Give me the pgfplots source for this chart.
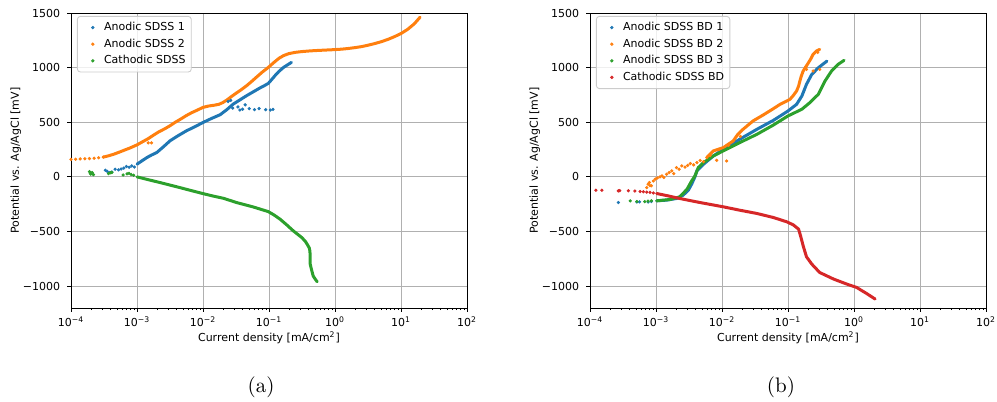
\documentclass[border=0pt]{standalone}
\usepackage{fontspec}
\usepackage{pgfplots}
\pgfplotsset{compat=1.18}
\newfontfamily\dejavu{DejaVu Sans}
\newcommand\tf{\dejavu\fontsize{5.5}{6.6}\selectfont}
\definecolor{cA}{HTML}{1F77B4}
\definecolor{cB}{HTML}{FF7F0E}
\definecolor{cC}{HTML}{2CA02C}
\definecolor{cD}{HTML}{D62728}
\definecolor{gridgray}{HTML}{B0B0B0}
\definecolor{leggray}{HTML}{CCCCCC}
\pgfplotsset{
  myaxis/.style={
    anchor=south west, width=198pt, height=147.5pt, scale only axis,
    xmin=1e-4, xmax=1e2, ymin=-1200, ymax=1500,
    xtick={1e-4,1e-3,1e-2,1e-1,1,10,100},
    xticklabels={10\textsuperscript{−4},10\textsuperscript{−3},10\textsuperscript{−2},10\textsuperscript{−1},10\textsuperscript{0},10\textsuperscript{1},10\textsuperscript{2}},
    minor xtick={2e-4,3e-4,4e-4,5e-4,6e-4,7e-4,8e-4,9e-4,2e-3,3e-3,4e-3,5e-3,6e-3,7e-3,8e-3,9e-3,2e-2,3e-2,4e-2,5e-2,6e-2,7e-2,8e-2,9e-2,0.2,0.3,0.4,0.5,0.6,0.7,0.8,0.9,2,3,4,5,6,7,8,9,20,30,40,50,60,70,80,90},
    ytick={-1000,-500,0,500,1000,1500},
    yticklabels={−1000,−500,0,500,1000,1500},
    tick label style={font=\tf},
    xticklabel style={yshift=1.2pt},
    label style={font=\tf},
    grid=major, major grid style={color=gridgray, line width=0.44pt},
    axis line style={line width=0.44pt},
    tick align=outside, tick pos=left,
    major tick length=1.9pt, minor tick length=1.1pt,
    major tick style={line width=0.44pt, black},
    minor tick style={line width=0.33pt, black},
    xlabel={Current density [mA/cm\textsuperscript{2}]},
    ylabel={Potential vs. Ag/AgCl [mV]},
    xlabel style={at={(axis description cs:0.5,-0.1)}, anchor=center},
    ylabel style={at={(axis description cs:-0.139,0.5)}, anchor=center},
    legend cell align=left,
    legend image code/.code={\path (0pt,0pt) (10pt,0pt); \draw[##1] plot coordinates {(5.5pt,0pt)};},
    legend style={at={(0.015,0.99)}, anchor=north west, draw=leggray, line width=0.44pt,
      rounded corners=1.5pt, fill=white, fill opacity=0.8, text opacity=1, draw opacity=1,
      font=\tf, inner sep=2pt, row sep=1.1pt,
      nodes={inner sep=0.9pt, text height=4.2pt, text depth=1.2pt},
      /tikz/every even column/.append style={column sep=4.6pt}},
  },
  sc/.style={only marks, mark=*, mark size=0.6pt, color=#1},
  ln/.style={color=#1, line width=1.5pt, line join=round, line cap=round, no marks, forget plot},
}
\begin{document}
\begin{tikzpicture}
\useasboundingbox (0,0) rectangle (498.5pt,201pt);
% ---------------- (a)
\begin{axis}[xmode=log, myaxis, at={(35.5pt,47pt)}]
% Anodic SDSS 1
\addplot[sc=cA] table[row sep=\\]{x y\\
3.311e-4 61\\ 3.548e-4 50\\ 3.890e-4 40\\ 4.169e-4 45\\ 4.677e-4 70\\ 5.248e-4 65\\
5.754e-4 72\\ 6.310e-4 80\\ 6.918e-4 95\\ 7.586e-4 88\\ 8.318e-4 100\\ 9.120e-4 90\\
2.399e-2 690\\ 2.630e-2 700\\ 2.818e-2 630\\ 3.388e-2 640\\ 3.631e-2 612\\ 3.981e-2 620\\
4.365e-2 660\\ 5.012e-2 625\\ 6.026e-2 615\\ 7.079e-2 625\\ 8.913e-2 615\\ 0.1047 612\\ 0.1148 618\\
};
\addlegendentry{Anodic SDSS 1}
\addplot[ln=cA] table[row sep=\\]{x y\\
1.0e-3 116\\ 1.175e-3 145\\ 1.413e-3 177\\ 1.660e-3 200\\ 1.995e-3 223\\ 2.512e-3 275\\
3.162e-3 330\\ 4.169e-3 376\\ 5.623e-3 422\\ 7.586e-3 460\\ 1.0e-2 498\\ 1.349e-2 535\\
1.820e-2 569\\ 2.291e-2 615\\ 2.884e-2 667\\ 3.631e-2 705\\ 4.571e-2 743\\ 5.754e-2 778\\
7.244e-2 813\\ 8.511e-2 835\\ 9.772e-2 856\\ 0.1096 890\\ 0.1230 926\\ 0.1413 965\\
0.1660 1002\\ 0.1905 1025\\ 0.2188 1048\\
};
% Anodic SDSS 2
\addplot[sc=cB] table[row sep=\\]{x y\\
1.0e-4 160\\ 1.175e-4 162\\ 1.380e-4 164\\ 1.622e-4 166\\ 1.905e-4 168\\ 2.239e-4 171\\
2.630e-4 175\\ 3.090e-4 181\\ 1.48e-3 312\\ 1.66e-3 312\\
};
\addlegendentry{Anodic SDSS 2}
\addplot[ln=cB] table[row sep=\\]{x y\\
3.090e-4 181\\ 3.715e-4 193\\ 4.467e-4 208\\ 5.370e-4 226\\ 6.457e-4 245\\ 7.943e-4 266\\
1.0e-3 293\\ 1.202e-3 320\\ 1.479e-3 350\\ 1.778e-3 382\\ 2.138e-3 412\\ 2.630e-3 440\\
3.162e-3 468\\ 3.802e-3 500\\ 4.677e-3 532\\ 5.623e-3 562\\ 6.761e-3 588\\ 8.318e-3 613\\
1.0e-2 636\\ 1.202e-2 648\\ 1.445e-2 655\\ 1.738e-2 664\\ 1.995e-2 680\\ 2.291e-2 703\\
2.692e-2 735\\ 3.162e-2 765\\ 3.802e-2 798\\ 4.571e-2 834\\ 5.495e-2 875\\ 6.607e-2 918\\
7.943e-2 960\\ 9.772e-2 1002\\ 0.1175 1045\\ 0.1413 1085\\ 0.1660 1110\\ 0.1995 1128\\
0.2512 1140\\ 0.3162 1147\\ 0.3981 1152\\ 0.5012 1156\\ 0.6310 1159\\ 0.7943 1162\\
1.0 1165\\ 1.259 1169\\ 1.585 1175\\ 1.995 1183\\ 2.512 1192\\ 3.162 1205\\ 3.981 1220\\
5.012 1237\\ 6.310 1258\\ 7.943 1283\\ 10.0 1312\\ 12.59 1350\\ 15.85 1400\\ 19.50 1462\\
};
% Cathodic SDSS
\addplot[sc=cC] table[row sep=\\]{x y\\
1.905e-4 48\\ 1.950e-4 35\\ 1.995e-4 25\\ 2.089e-4 40\\ 2.188e-4 20\\ 3.715e-4 30\\
3.981e-4 38\\ 4.169e-4 40\\ 6.166e-4 18\\ 7.079e-4 28\\ 7.586e-4 32\\ 8.128e-4 22\\ 8.913e-4 15\\
};
\addlegendentry{Cathodic SDSS}
\addplot[ln=cC] table[row sep=\\]{x y\\
1.0e-3 0\\ 1.259e-3 -15\\ 1.585e-3 -30\\ 2.239e-3 -52\\ 3.162e-3 -75\\ 4.467e-3 -98\\
6.607e-3 -125\\ 1.0e-2 -153\\ 1.413e-2 -175\\ 2.042e-2 -196\\ 3.236e-2 -235\\ 5.754e-2 -275\\
9.772e-2 -318\\ 0.1202 -350\\ 0.1479 -388\\ 0.1862 -440\\ 0.2344 -495\\ 0.2754 -528\\
0.3162 -557\\ 0.3548 -590\\ 0.3802 -618\\ 0.4074 -650\\ 0.4169 -679\\ 0.4217 -740\\
0.4217 -801\\ 0.4467 -862\\ 0.4677 -908\\ 0.5012 -935\\ 0.5370 -960\\
};
\end{axis}
% ---------------- (b)
\begin{axis}[xmode=log, myaxis, at={(295pt,47pt)}]
% Anodic SDSS BD 1
\addplot[sc=cA] table[row sep=\\]{x y\\
2.692e-4 -235\\ 5.129e-4 -229\\ 5.623e-4 -228\\ 7.586e-4 -230\\ 8.511e-4 -226\\
};
\addlegendentry{Anodic SDSS BD 1}
\addplot[ln=cA] table[row sep=\\]{x y\\
1.023e-3 -219\\ 1.445e-3 -213\\ 2.042e-3 -198\\ 2.570e-3 -168\\ 3.090e-3 -122\\ 3.467e-3 -67\\
3.890e-3 0\\ 4.169e-3 55\\ 5.248e-3 116\\ 7.413e-3 192\\ 1.047e-2 253\\ 1.862e-2 345\\
3.388e-2 436\\ 6.026e-2 518\\ 0.1 603\\ 0.1349 664\\ 0.1622 740\\ 0.1905 847\\
0.2291 938\\ 0.2884 999\\ 0.3890 1060\\
};
% Anodic SDSS BD 2
\addplot[sc=cB] table[row sep=\\]{x y\\
7.244e-4 -98\\ 7.586e-4 -67\\ 7.943e-4 -52\\ 8.128e-4 -80\\ 8.511e-4 -82\\ 9.120e-4 -37\\
9.772e-4 -20\\ 1.047e-3 -10\\ 1.148e-3 0\\ 1.230e-3 9\\ 1.318e-3 -5\\ 1.445e-3 24\\
1.585e-3 40\\ 1.738e-3 55\\ 1.862e-3 30\\ 2.042e-3 85\\ 2.239e-3 70\\ 2.455e-3 100\\
2.754e-3 90\\ 3.020e-3 105\\ 3.311e-3 122\\ 3.715e-3 110\\ 4.169e-3 131\\ 4.677e-3 150\\
5.248e-3 140\\ 5.888e-3 177\\ 6.607e-3 195\\ 8.318e-3 152\\ 8.913e-3 250\\ 1.175e-2 146\\
1.259e-2 290\\ 1.905e-2 370\\ 0.1862 1010\\ 0.1905 984\\ 0.2399 969\\ 0.3020 984\\ 0.2818 1140\\
};
\addlegendentry{Anodic SDSS BD 2}
\addplot[ln=cB] table[row sep=\\]{x y\\
5.888e-3 177\\ 7.413e-3 238\\ 1.047e-2 268\\ 1.479e-2 329\\ 1.738e-2 390\\ 2.089e-2 436\\
2.951e-2 512\\ 4.169e-2 565\\ 6.026e-2 625\\ 7.586e-2 664\\ 0.1072 710\\ 0.1202 745\\
0.1349 786\\ 0.1445 830\\ 0.1514 877\\ 0.1585 920\\ 0.1698 969\\ 0.2042 1045\\
0.2239 1085\\ 0.2399 1121\\ 0.2692 1152\\ 0.3020 1167\\
};
% Anodic SDSS BD 3
\addplot[sc=cC] table[row sep=\\]{x y\\
4.074e-4 -219\\ 5.129e-4 -226\\ 6.761e-4 -226\\ 7.586e-4 -222\\ 8.511e-4 -219\\
};
\addlegendentry{Anodic SDSS BD 3}
\addplot[ln=cC] table[row sep=\\]{x y\\
1.023e-3 -219\\ 1.622e-3 -207\\ 2.291e-3 -183\\ 2.951e-3 -113\\ 3.467e-3 -37\\ 3.890e-3 9\\
4.365e-3 85\\ 5.248e-3 131\\ 7.413e-3 192\\ 1.047e-2 238\\ 1.862e-2 314\\ 3.388e-2 390\\
6.026e-2 475\\ 0.1 558\\ 0.1622 619\\ 0.2138 679\\ 0.2884 756\\ 0.3631 877\\
0.4571 969\\ 0.5754 1030\\ 0.7079 1067\\
};
% Cathodic SDSS BD
\addplot[sc=cD] table[row sep=\\]{x y\\
1.230e-4 -122\\ 1.514e-4 -122\\ 2.692e-4 -128\\ 2.818e-4 -126\\ 3.802e-4 -127\\ 4.786e-4 -130\\
5.754e-4 -134\\ 6.457e-4 -136\\ 7.244e-4 -140\\ 8.128e-4 -142\\ 9.120e-4 -147\\
};
\addlegendentry{Cathodic SDSS BD}
\addplot[ln=cD] table[row sep=\\]{x y\\
1.023e-3 -152\\ 1.585e-3 -176\\ 2.291e-3 -198\\ 4.677e-3 -235\\ 1.047e-2 -274\\ 1.862e-2 -305\\
3.388e-2 -335\\ 6.026e-2 -372\\ 9.550e-2 -411\\ 0.1202 -439\\ 0.1445 -478\\ 0.1549 -539\\
0.1698 -631\\ 0.1905 -731\\ 0.2291 -798\\ 0.3020 -875\\ 0.4898 -935\\ 0.7762 -981\\
1.096 -1012\\ 1.549 -1067\\ 2.089 -1118\\
};
\end{axis}
\node[font=\fontsize{10.5}{12}\selectfont] at (130.5pt,7.5pt) {(a)};
\node[font=\fontsize{10.5}{12}\selectfont] at (390.5pt,7.5pt) {(b)};
\end{tikzpicture}
\end{document}
